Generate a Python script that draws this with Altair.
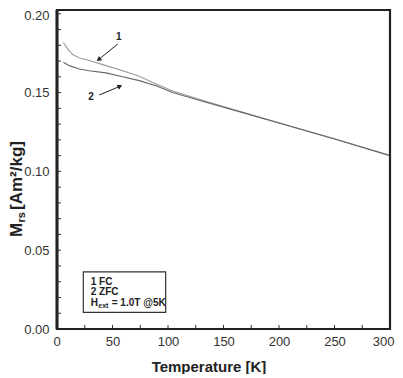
import altair as alt
import pandas as pd

# ---- data ----
fc_T = [5.7, 9.6, 14.1, 20.1, 29.1, 44.1, 59.2, 74.1, 89.2, 104.2, 131.8, 161.9, 208.4, 250, 300]
fc_M = [0.1818, 0.1777, 0.1741, 0.1720, 0.1703, 0.1671, 0.1639, 0.1603, 0.1555, 0.1510,
        0.1450, 0.1386, 0.1291, 0.1207, 0.1101]
zfc_T = [5.7, 11.1, 20.1, 29.1, 44.1, 59.2, 74.1, 89.2, 104.2, 131.8, 161.9, 208.4, 250, 300]
zfc_M = [0.1692, 0.1671, 0.1650, 0.1639, 0.1625, 0.1601, 0.1576, 0.1544, 0.1500,
         0.1444, 0.1384, 0.1290, 0.1206, 0.1100]

x_major = [0, 50, 100, 150, 200, 250, 300]
x_minor = [25, 75, 125, 175, 225, 275]
y_major = [0.0, 0.05, 0.10, 0.15, 0.20]
y_minor = [0.01, 0.02, 0.03, 0.04, 0.06, 0.07, 0.08, 0.09, 0.11, 0.12, 0.13, 0.14,
           0.16, 0.17, 0.18, 0.19]

# annotations (data coordinates)
arrow_tail_T = [54.7, 38.1]
arrow_tail_M = [0.1808, 0.1485]
arrow_head_T = [38.1, 56.1]
arrow_head_M = [0.1713, 0.1538]
arrow_angle = [231, 67]
arrow_label = ["1", "2"]
arrow_label_T = [55.6, 30.6]
arrow_label_M = [0.1850, 0.1470]

box_T = [23.7, 97.9]
box_M = [0.0106, 0.0363]
box_lines = ["1 FC", "2 ZFC"]
box_lines_M = [0.0299, 0.0232]
box_text_T = 30.4
hext_M = 0.0163

W, H = 333, 319
FONT = "Liberation Sans"

df = pd.DataFrame({
    "T": fc_T + zfc_T,
    "M": fc_M + zfc_M,
    "s": ["FC"] * len(fc_T) + ["ZFC"] * len(zfc_T),
})

xs = alt.Scale(domain=[0, 300], nice=False, zero=False)
ys = alt.Scale(domain=[0, 0.2024], nice=False, zero=False)

lines = alt.Chart(df).mark_line(strokeWidth=1.1).encode(
    x=alt.X("T:Q", scale=xs, axis=alt.Axis(values=x_major, title=None, ticks=False, domain=False,
                                             grid=False, labelFont=FONT, labelFontSize=13,
                                             labelColor="#333", labelPadding=6, labelFlush=True,
                                             labelFlushOffset=4)),
    y=alt.Y("M:Q", scale=ys, axis=alt.Axis(values=y_major, format=".2f", title=None, ticks=False,
                                             domain=False, grid=False, labelFont=FONT,
                                             labelFontSize=13, labelColor="#333", labelPadding=8,
                                             labelFlush=False,
                                             labelOffset={"condition": {"test": "datum.value >= 0.2",
                                                                        "value": 2},
                                                          "value": 0})),
    color=alt.Color("s:N", scale=alt.Scale(domain=["FC", "ZFC"], range=["#9a9a9a", "#666666"]),
                    legend=None),
    detail="s:N",
)

# inner ticks
xt = pd.DataFrame({"T": x_major + x_minor})
xticks = alt.Chart(xt).mark_rule(color="#333", strokeWidth=1).encode(
    x=alt.X("T:Q", scale=xs),
    y=alt.value(H),
    y2=alt.value(H - 4),
)
yt = pd.DataFrame({"M": y_major + y_minor})
yticks = alt.Chart(yt).mark_rule(color="#333", strokeWidth=1).encode(
    y=alt.Y("M:Q", scale=ys),
    x=alt.value(0),
    x2=alt.value(4),
)

adf = pd.DataFrame({"T": arrow_tail_T, "M": arrow_tail_M, "T2": arrow_head_T, "M2": arrow_head_M,
                    "ang": arrow_angle, "lab": arrow_label, "LT": arrow_label_T, "LM": arrow_label_M})
arrows = alt.Chart(adf).mark_rule(color="#222", strokeWidth=1).encode(
    x=alt.X("T:Q", scale=xs), y=alt.Y("M:Q", scale=ys), x2="T2:Q", y2="M2:Q")
heads = alt.Chart(adf).mark_point(shape="triangle", filled=True, color="#222", size=30, opacity=1).encode(
    x=alt.X("T2:Q", scale=xs), y=alt.Y("M2:Q", scale=ys), angle=alt.Angle("ang:Q", scale=None))
alabels = alt.Chart(adf).mark_text(font=FONT, fontSize=10, fontWeight="bold", color="#222").encode(
    x=alt.X("LT:Q", scale=xs), y=alt.Y("LM:Q", scale=ys), text="lab:N")

bdf = pd.DataFrame({"T": [box_T[0]], "T2": [box_T[1]], "M": [box_M[0]], "M2": [box_M[1]]})
box = alt.Chart(bdf).mark_rect(fill="white", stroke="#333", strokeWidth=1.2).encode(
    x=alt.X("T:Q", scale=xs), x2="T2:Q", y=alt.Y("M:Q", scale=ys), y2="M2:Q")

tdf = pd.DataFrame({"T": [box_text_T] * 2, "M": box_lines_M, "t": box_lines})
btext = alt.Chart(tdf).mark_text(font=FONT, fontSize=10, fontWeight="bold", color="#222",
                                  align="left", baseline="middle").encode(
    x=alt.X("T:Q", scale=xs), y=alt.Y("M:Q", scale=ys), text="t:N")

hdf = pd.DataFrame({"T": [box_text_T], "M": [hext_M]})
h1 = alt.Chart(hdf).mark_text(font=FONT, fontSize=10, fontWeight="bold", color="#222",
                              align="left", baseline="middle", text="H").encode(
    x=alt.X("T:Q", scale=xs), y=alt.Y("M:Q", scale=ys))
h2 = alt.Chart(hdf).mark_text(font=FONT, fontSize=7, fontWeight="bold", color="#222",
                              align="left", baseline="middle", text="ext", dx=7.5, dy=3).encode(
    x=alt.X("T:Q", scale=xs), y=alt.Y("M:Q", scale=ys))
h3 = alt.Chart(hdf).mark_text(font=FONT, fontSize=10, fontWeight="bold", color="#222",
                              align="left", baseline="middle", text="= 1.0T @5K", dx=21).encode(
    x=alt.X("T:Q", scale=xs), y=alt.Y("M:Q", scale=ys))

# frame
frame = alt.Chart(hdf).mark_rect(fill=None, stroke="#222", strokeWidth=2.2).encode(
    x=alt.value(0), x2=alt.value(W), y=alt.value(0), y2=alt.value(H))
leftedge = alt.Chart(hdf).mark_rule(color="#222", strokeWidth=3).encode(
    x=alt.value(0), y=alt.value(0), y2=alt.value(H))

# axis titles
xtitle = alt.Chart(hdf).mark_text(font=FONT, fontSize=15, fontWeight="bold", color="#222",
                                  text="Temperature [K]", align="center", baseline="alphabetic").encode(
    x=alt.value(152), y=alt.value(H + 43))
yt1 = alt.Chart(hdf).mark_text(font=FONT, fontSize=17, fontWeight="bold", color="#222", text="M",
                               angle=270, align="left", baseline="alphabetic").encode(
    x=alt.value(-35), y=alt.value(227))
yt2 = alt.Chart(hdf).mark_text(font=FONT, fontSize=11, fontWeight="bold", color="#222", text="rs",
                               angle=270, align="left", baseline="alphabetic").encode(
    x=alt.value(-32), y=alt.value(212.5))
yt3 = alt.Chart(hdf).mark_text(font=FONT, fontSize=17, fontWeight="bold", color="#222", text="[Am²/kg]",
                               angle=270, align="left", baseline="alphabetic").encode(
    x=alt.value(-35), y=alt.value(200))

chart = alt.layer(box, lines, xticks, yticks, arrows, heads, alabels, btext, h1, h2, h3,
                  frame, leftedge, xtitle, yt1, yt2, yt3).properties(
    width=W, height=H,
    autosize=alt.AutoSizeParams(type="none"),
    padding={"left": 49, "top": 2, "right": 5, "bottom": 45},
).configure_view(stroke=None).configure(background="white")

chart.save("out.html", embed_options={"renderer": "svg", "actions": False})
